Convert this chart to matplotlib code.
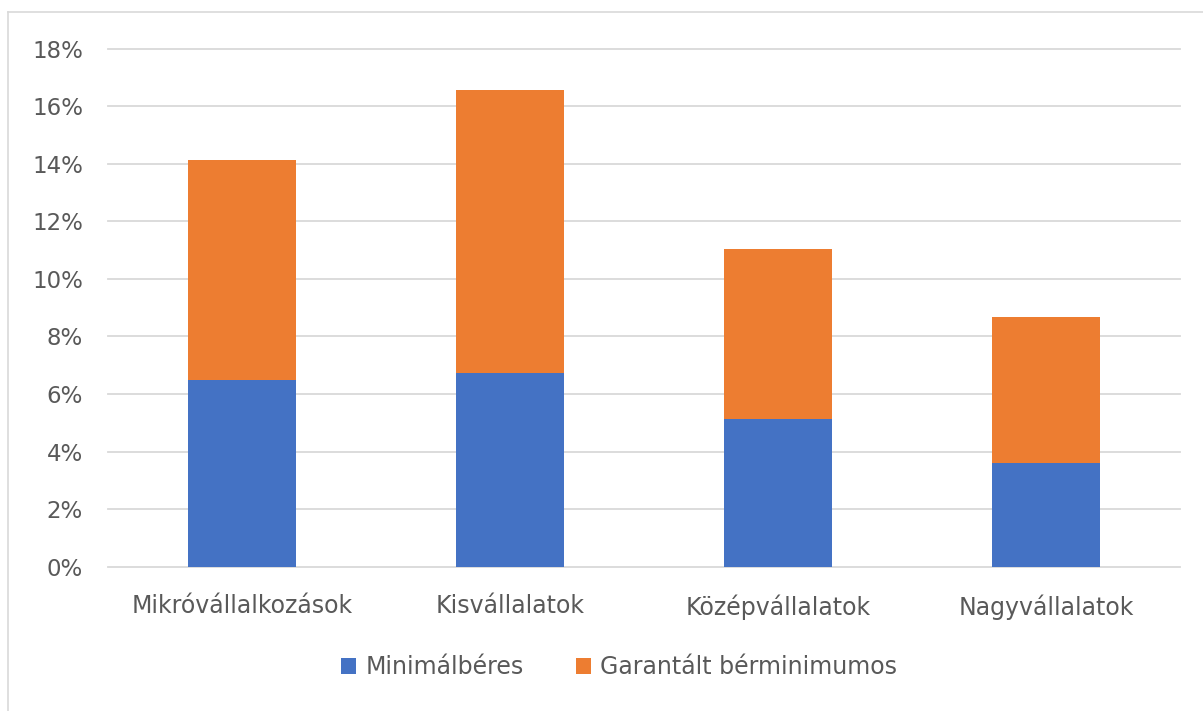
import matplotlib
matplotlib.use("Agg")
import matplotlib.pyplot as plt
from matplotlib.ticker import FuncFormatter
from matplotlib.lines import Line2D

categories = ["Mikróvállalkozások", "Kisvállalatok", "Középvállalatok", "Nagyvállalatok"]
minimalberes = [6.48, 6.74, 5.12, 3.59]
garantalt = [7.64, 9.84, 5.93, 5.09]
yticks = [0, 2, 4, 6, 8, 10, 12, 14, 16, 18]

W, H = 1203, 711
fig = plt.figure(figsize=(W / 100, H / 100), dpi=100)
plt.rcParams['font.family'] = ['DejaVu Sans']
txt = '#595959'
fs = 17

ax = fig.add_axes([108 / W, (H - 566.7) / H, (1180 - 108) / W, (566.7 - 48.7) / H])
x = list(range(len(categories)))
ax.bar(x, minimalberes, width=0.4, color='#4472C4', label='Minimálbéres', zorder=3)
ax.bar(x, garantalt, width=0.4, bottom=minimalberes, color='#ED7D31',
       label='Garantált bérminimumos', zorder=3)
ax.set_xlim(-0.5, 3.5)
ax.set_ylim(0, 18)
ax.set_yticks(yticks)
ax.yaxis.set_major_formatter(FuncFormatter(lambda v, p: f"{v:.0f}%"))
ax.set_xticks(x)
ax.set_xticklabels(categories)
ax.grid(axis='y', color='#d9d9d9', linewidth=1.3, zorder=0)
for gl in ax.get_ygridlines():
    gl.set_clip_on(False)
for s in ax.spines.values():
    s.set_visible(False)
ax.tick_params(axis='both', length=0, labelcolor=txt)
ax.tick_params(axis='y', pad=18, labelsize=16.5)
ax.tick_params(axis='x', pad=20, labelsize=fs)

leg = fig.legend(loc='center', bbox_to_anchor=(619 / W, (H - 667) / H), ncol=2,
                 frameon=False, fontsize=fs, labelcolor=txt, handlelength=0.65,
                 handleheight=0.65, handletextpad=0.4, columnspacing=2.2)

# outer chart border (only top and left visible in crop)
fig.add_artist(Line2D([8 / W, 1], [(H - 12) / H, (H - 12) / H], color='#d9d9d9', lw=1.2,
                      transform=fig.transFigure))
fig.add_artist(Line2D([8 / W, 8 / W], [0, (H - 12) / H], color='#d9d9d9', lw=1.2,
                      transform=fig.transFigure))

fig.savefig("out.png", dpi=100, facecolor='white')
